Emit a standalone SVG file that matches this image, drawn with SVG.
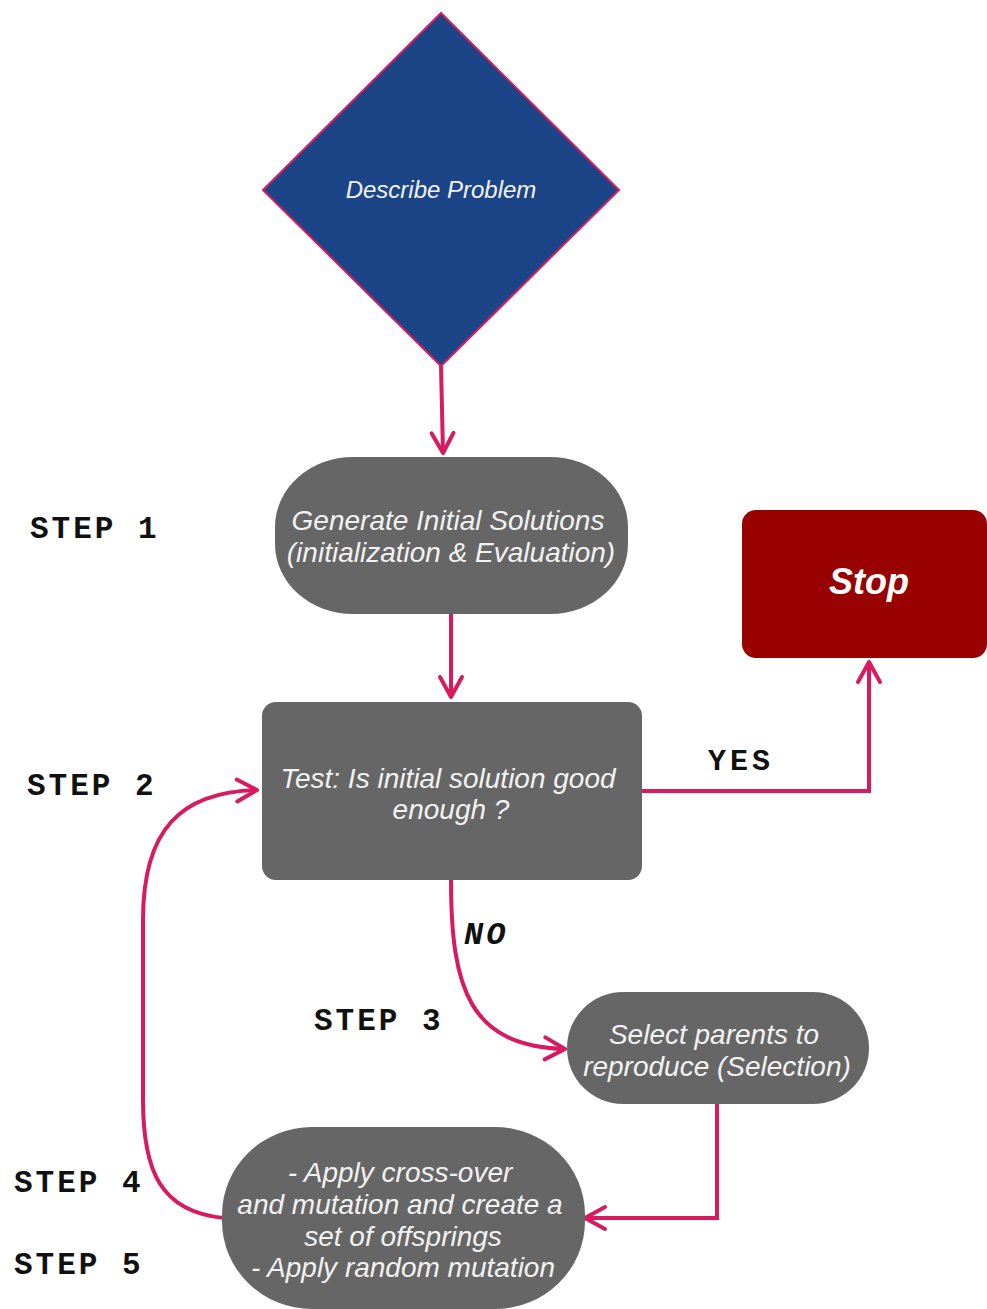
<svg xmlns="http://www.w3.org/2000/svg" width="987" height="1309" viewBox="0 0 987 1309">
  <defs>
    <marker id="arrow" viewBox="0 0 26 28" refX="23" refY="14" markerWidth="26" markerHeight="28" markerUnits="userSpaceOnUse" orient="auto">
      <path d="M3,3 L23,14 L3,25" fill="none" stroke="#d81b60" stroke-width="4" stroke-linecap="round" stroke-linejoin="round"/>
    </marker>
    <style>
      .node-text { font-family: "Liberation Sans", Arial, sans-serif; font-style: italic; font-size: 28px; fill: #f2f2f2; text-anchor: middle; }
      .mono { font-family: "Liberation Mono", "Courier New", monospace; font-weight: bold; fill: #111; }
      .step { font-size: 31px; letter-spacing: 3px; }
      .edge { fill: none; stroke: #d81b60; stroke-width: 4; }
      .gray { fill: #666666; }
    </style>
  </defs>
  <rect width="987" height="1309" fill="#ffffff"/>

  <!-- step labels -->
  <g id="labels">
    <text class="mono step" x="30" y="538">STEP 1</text>
    <text class="mono step" x="27" y="795">STEP 2</text>
    <text class="mono step" x="314" y="1030">STEP 3</text>
    <text class="mono step" x="14" y="1192">STEP 4</text>
    <text class="mono step" x="14" y="1274">STEP 5</text>
  </g>

  <!-- connectors -->
  <g id="connectors">
    <path class="edge" d="M441,366 L443,453" marker-end="url(#arrow)"/>
    <path class="edge" d="M451,614 L451,697" marker-end="url(#arrow)"/>
    <path class="edge" d="M642,791 L869,791 L869,662" marker-end="url(#arrow)"/>
    <path class="edge" d="M451,880 C451,990 470,1046 565,1049" marker-end="url(#arrow)"/>
    <path class="edge" d="M717,1104 L717,1218 L585,1218" marker-end="url(#arrow)"/>
    <path class="edge" d="M224,1218 C160,1212 143,1170 143,1100 L143,920 C143,830 180,792 257,790" marker-end="url(#arrow)"/>
    <text class="mono" x="708" y="770" font-size="30" letter-spacing="4">YES</text>
    <text class="mono" x="464" y="944" font-size="32" font-style="italic" letter-spacing="3">NO</text>
  </g>

  <g id="describe">
    <polygon points="441,13 619,190 441,366 263,190" fill="#1c4587" stroke="#d81b60" stroke-width="2"/>
    <text class="node-text" x="441" y="198" style="font-size:24px">Describe Problem</text>
  </g>

  <g id="generate">
    <rect class="gray" x="275" y="457" width="353" height="157" rx="78" ry="70"/>
    <text class="node-text" x="448" y="530">Generate Initial Solutions</text>
    <text class="node-text" x="451" y="562">(initialization &amp; Evaluation)</text>
  </g>

  <g id="test">
    <rect class="gray" x="262" y="702" width="380" height="178" rx="14"/>
    <text class="node-text" x="448" y="788">Test: Is initial solution good</text>
    <text class="node-text" x="451" y="819">enough ?</text>
  </g>

  <g id="stop">
    <rect x="742" y="510" width="245" height="148" rx="14" fill="#990000"/>
    <text x="869" y="594" font-family="Liberation Sans, Arial, sans-serif" font-weight="bold" font-style="italic" font-size="36" fill="#ffffff" text-anchor="middle">Stop</text>
  </g>

  <g id="select">
    <rect class="gray" x="567" y="992" width="302" height="112" rx="56"/>
    <text class="node-text" x="714" y="1044">Select parents to</text>
    <text class="node-text" x="717" y="1076">reproduce (Selection)</text>
  </g>

  <g id="apply">
    <rect class="gray" x="222" y="1127" width="363" height="182" rx="90" ry="88"/>
    <text class="node-text" x="400" y="1182">- Apply cross-over</text>
    <text class="node-text" x="400" y="1214">and mutation and create a</text>
    <text class="node-text" x="403" y="1246">set of offsprings</text>
    <text class="node-text" x="403" y="1277">- Apply random mutation</text>
  </g>
</svg>
